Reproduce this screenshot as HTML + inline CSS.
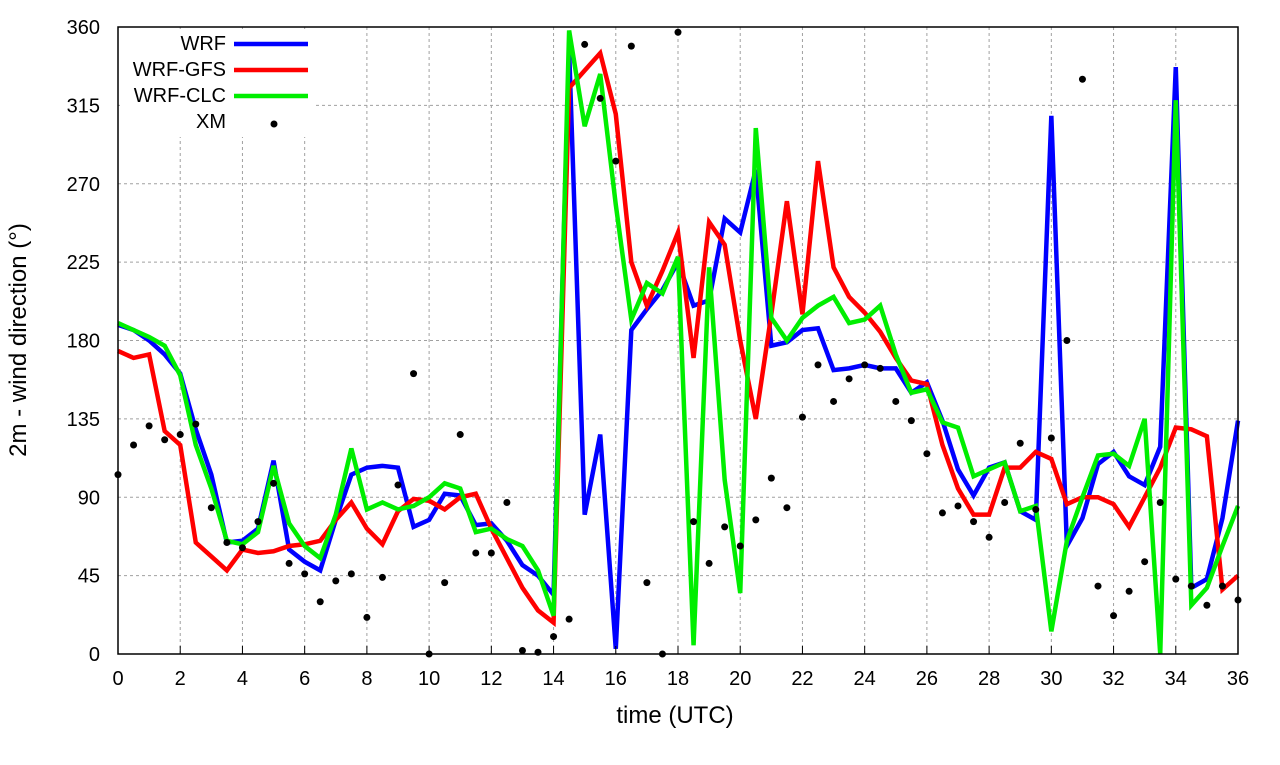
<!DOCTYPE html>
<html><head><meta charset="utf-8"><style>
body{margin:0;background:#fff;width:1280px;height:760px;overflow:hidden}
text{font-family:"Liberation Sans",sans-serif;fill:#000}
</style></head><body>
<svg id="chart" width="1280" height="760" viewBox="0 0 1280 760">
<g id="grid"></g>
<rect x="120" y="29" width="195" height="108" fill="#fff"/>
<g id="series"></g>
<rect x="118" y="27" width="1120" height="627" fill="none" stroke="#000" stroke-width="1.5"/>
<g id="axes"></g>
<text x="675" y="723" font-size="24" text-anchor="middle">time (UTC)</text>
<text transform="translate(26,340) rotate(-90)" font-size="24" text-anchor="middle">2m - wind direction (°)</text>
<g id="legend"></g>
</svg>
<script>
const xTicks=[0,2,4,6,8,10,12,14,16,18,20,22,24,26,28,30,32,34,36];
const yTicks=[0,45,90,135,180,225,270,315,360];
const wrf=[189,186,180,172,161,129,103,64,65,72,111,60,53,48,77,103,107,108,107,73,77,92,91,74,75,65,51,45,34,347,80,126,3,186,198,209,225,200,203,250,242,278,177,179,186,187,163,164,166,164,164,150,156,134,106,91,107,110,82,77,309,62,78,109,116,102,97,119,337,38,43,78,134];
const gfs=[174,170,172,128,120,64,56,48,60,58,59,62,63,65,77,87,72,63,82,89,88,83,90,92,72,55,38,25,18,325,335,345,310,225,200,220,242,170,248,235,180,135,195,260,195,283,222,205,196,185,170,157,155,120,95,80,80,107,107,116,112,86,90,90,86,73,90,107,130,129,125,37,45];
const clc=[190,186,182,177,160,120,95,65,63,70,108,75,62,55,80,118,83,87,83,85,90,98,95,70,72,66,62,48,22,358,303,333,258,192,213,207,228,5,222,100,35,302,193,180,193,200,205,190,192,200,172,150,152,133,130,102,106,110,82,85,13,65,90,114,115,108,135,0,318,28,38,62,85];
const xm=[103,120,131,123,126,132,84,64,61,76,98,52,46,30,42,46,21,44,97,161,0,41,126,58,58,87,2,1,10,20,350,319,283,349,41,0,357,76,52,73,62,77,101,84,136,166,145,158,166,164,145,134,115,81,85,76,67,87,121,83,124,180,330,39,22,36,53,87,43,39,28,39,31];
const seriesNames=["WRF","WRF-GFS","WRF-CLC"];
const seriesColors=["#0000ff","#ff0000","#00ee00"];
const NS="http://www.w3.org/2000/svg";
const X=t=>118+t*1120/36, Y=v=>654-v*627/360;
function mk(tag,attrs,parent){const e=document.createElementNS(NS,tag);for(const k in attrs)e.setAttribute(k,attrs[k]);parent.appendChild(e);return e;}
const grid=document.getElementById('grid'),axes=document.getElementById('axes'),ser=document.getElementById('series'),leg=document.getElementById('legend');
xTicks.forEach(t=>{
 const l=mk('line',{x1:X(t),x2:X(t),y1:27,y2:654,stroke:'#a0a0a0','stroke-dasharray':'3,3','stroke-width':1},grid);
 
 
 const tk=mk('line',{x1:X(t),x2:X(t),y1:654,y2:646,stroke:'#000'},axes);
 
 
 const tx=mk('text',{x:X(t),y:685,'font-size':20,'text-anchor':'middle'},axes);tx.textContent=t;
 
 
});
yTicks.forEach(v=>{
 const l=mk('line',{x1:118,x2:1238,y1:Y(v),y2:Y(v),stroke:'#a0a0a0','stroke-dasharray':'3,3','stroke-width':1},grid);
 
 
 const tx=mk('text',{x:100,y:Y(v)+7,'font-size':20,'text-anchor':'end'},axes);tx.textContent=v;
 
 
});
[wrf,gfs,clc].forEach((d,i)=>{
 const p=mk('polyline',{points:d.map((v,j)=>X(j*0.5)+','+Y(v)).join(' '),fill:'none',stroke:seriesColors[i],'stroke-width':4.5,'stroke-linejoin':'miter'},ser);
 
 
});
xm.forEach((v,j)=>{
 const c=mk('circle',{cx:X(j*0.5),cy:Y(v),r:3.5,fill:'#000'},ser);
 
 
});
const legNames=["WRF","WRF-GFS","WRF-CLC","XM"];
legNames.forEach((n,i)=>{
 const y=42+i*26;
 const tx=mk('text',{x:226,y:y+8,'font-size':20,'text-anchor':'end'},leg);tx.textContent=n;
 
 
 if(i<3){const l=mk('line',{x1:234,x2:308,y1:y+2,y2:y+2,stroke:seriesColors[i],'stroke-width':4.5},leg);
  
  }
 else{const c=mk('circle',{cx:274,cy:y+4,r:3.5,fill:'#000'},leg);
  
  }
});
</script>
</body></html>
